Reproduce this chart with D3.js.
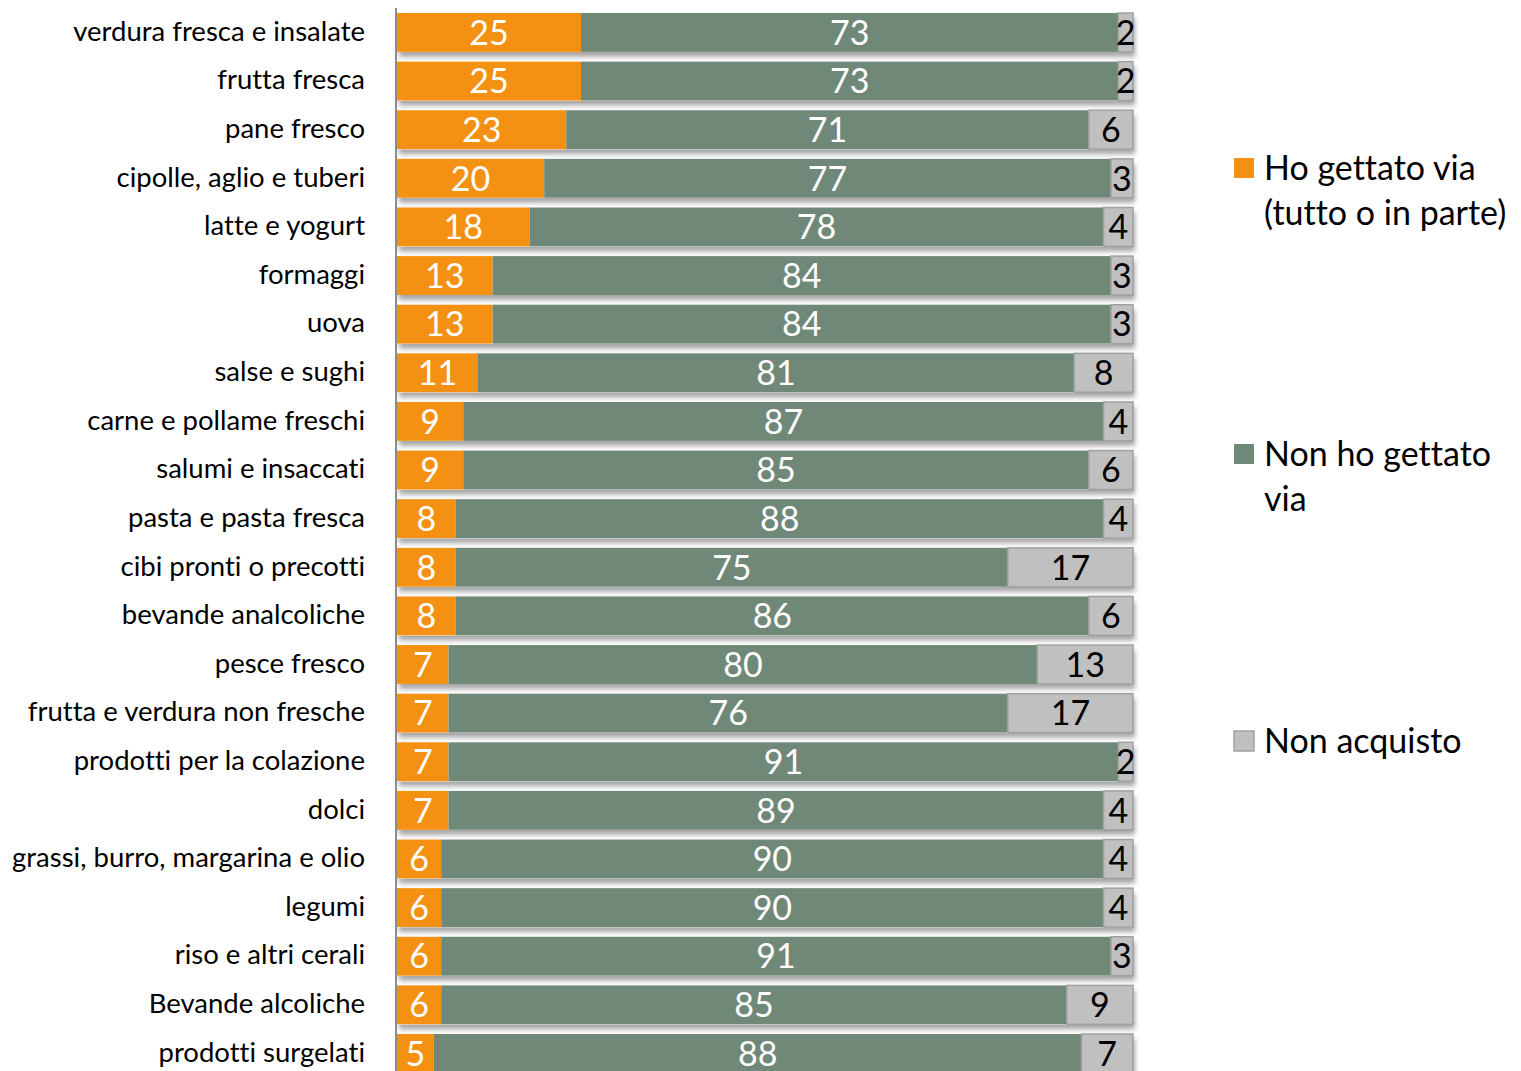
<!DOCTYPE html>
<html><head><meta charset="utf-8">
<script src="https://cdn.jsdelivr.net/npm/d3@7"></script>
<style>html,body{margin:0;padding:0;background:#fff;overflow:hidden} text{font-variant-ligatures:none;font-feature-settings:"liga" 0,"clig" 0}</style>
</head><body>
<script>
const categories = ["verdura fresca e insalate","frutta fresca","pane fresco","cipolle, aglio e tuberi","latte e yogurt","formaggi","uova","salse e sughi","carne e pollame freschi","salumi e insaccati","pasta e pasta fresca","cibi pronti o precotti","bevande analcoliche","pesce fresco","frutta e verdura non fresche","prodotti per la colazione","dolci","grassi, burro, margarina e olio","legumi","riso e altri cerali","Bevande alcoliche","prodotti surgelati"];
const gettato   = [25,25,23,20,18,13,13,11,9,9,8,8,8,7,7,7,7,6,6,6,6,5];
const nonGettato= [73,73,71,77,78,84,84,81,87,85,88,75,86,80,76,91,89,90,90,91,85,88];
const nonAcq    = [2,2,6,3,4,3,3,8,4,6,4,17,6,13,17,2,4,4,4,3,9,7];
const seriesNames = [["Ho gettato via","(tutto o in parte)"],["Non ho gettato","via"],["Non acquisto"]];

const W=1521,H=1071;
const colors=["#F49112","#708878","#C0C0C0"];
const strokes=["none","none","#A0A0A0"];
const labelColors=["#fff","#fff","#000"];
const FONT="Lato, 'Open Sans', sans-serif";

const svg=d3.select("body").append("svg").attr("width",W).attr("height",H);
const defs=svg.append("defs");
const f=defs.append("filter").attr("id","sh").attr("x","-5%").attr("y","-30%").attr("width","115%").attr("height","180%");
f.append("feDropShadow").attr("dx",2).attr("dy",5).attr("stdDeviation",2.5).attr("flood-color","#000").attr("flood-opacity",0.35);

const x=d3.scaleLinear().domain([0,100]).range([397,1133]);
const step=48.62;
const y=d3.scaleBand().domain(categories).range([13-0.1*step, 13-0.1*step+step*22]).paddingInner(0.2).paddingOuter(0.1);

const stackData=categories.map((c,i)=>({c,g:gettato[i],n:nonGettato[i],a:nonAcq[i]}));
const stack=d3.stack().keys(["g","n","a"])(stackData);

svg.append("g").selectAll("rect").data(categories).join("rect")
 .attr("x",x(0)).attr("y",d=>y(d)).attr("width",x(100)-x(0)).attr("height",y.bandwidth())
 .attr("fill","#fff").attr("filter","url(#sh)");

stack.forEach((s,si)=>{
  const g=svg.append("g");
  g.selectAll("rect").data(s).join("rect")
   .attr("x",d=>x(d[0])).attr("y",d=>y(d.data.c))
   .attr("width",d=>x(d[1])-x(d[0])).attr("height",y.bandwidth())
   .attr("fill",colors[si]).attr("stroke",strokes[si]).attr("stroke-width",1.5);
  g.selectAll("text").data(s).join("text")
   .attr("x",d=>(x(d[0])+x(d[1]))/2).attr("y",d=>y(d.data.c)+y.bandwidth()/2)
   .attr("dy","0.36em").attr("text-anchor","middle")
   .attr("font-family",FONT).attr("font-size",34).attr("fill",labelColors[si])
   .text(d=>d[1]-d[0]);
});

const yAxis=d3.axisLeft(y).tickSize(0).tickPadding(31);
const ag=svg.append("g").attr("transform","translate(396,0)").call(yAxis);
ag.select(".domain").attr("stroke","#8c8c8c").attr("stroke-width",2).attr("d",`M0,8V${H}`);
ag.selectAll(".tick text").attr("font-family",FONT).attr("font-size",27.5).attr("fill","#000").attr("dy","0.3em");

const leg=svg.append("g");
const legY=[168,454,741];
seriesNames.forEach((lines,i)=>{
  leg.append("rect").attr("x",1234).attr("y",legY[i]-10).attr("width",20).attr("height",20)
   .attr("fill",colors[i]).attr("stroke",strokes[i]).attr("stroke-width",1.5);
  lines.forEach((t,j)=>{
    leg.append("text").attr("x",1264).attr("y",legY[i]+j*45).attr("dy","0.36em")
     .attr("font-family",FONT).attr("font-size",34).attr("fill","#000").text(t);
  });
});
</script>
</body></html>
